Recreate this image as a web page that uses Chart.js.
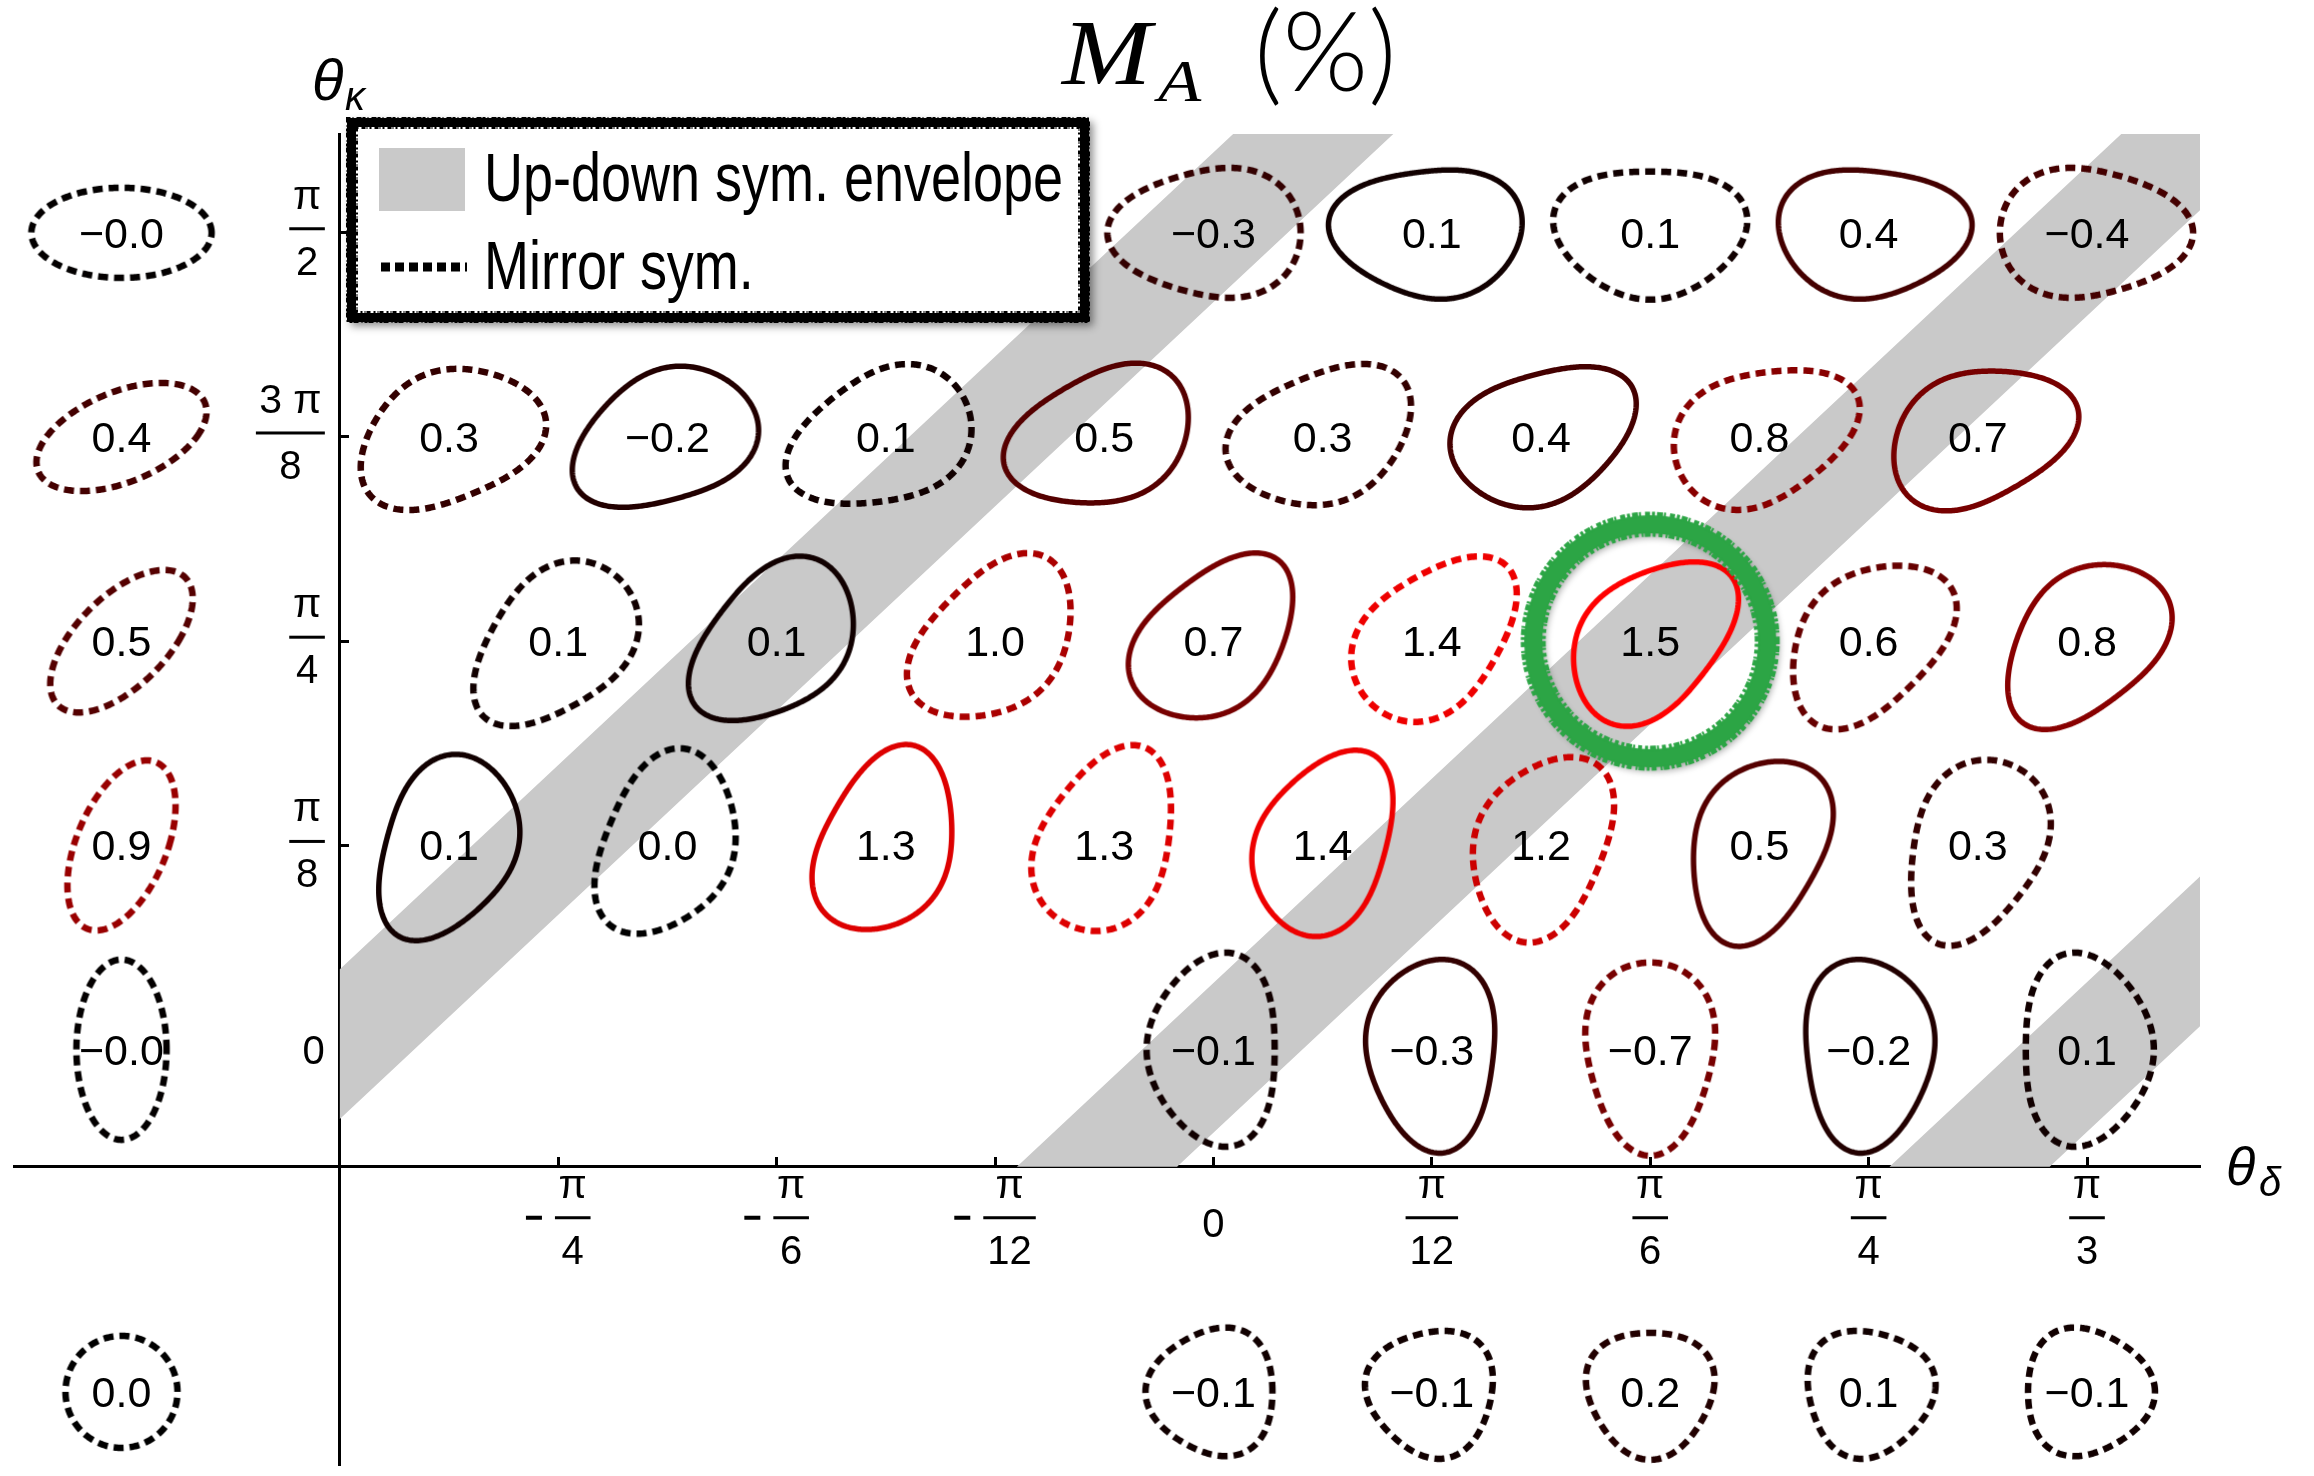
<!DOCTYPE html>
<html>
<head>
<meta charset="utf-8">
<script src="https://cdn.jsdelivr.net/npm/chart.js@4.4.0/dist/chart.umd.min.js"></script>
<style>
  html, body { margin: 0; padding: 0; background: #fff; }
</style>
</head>
<body>
<canvas id="chart" width="2314" height="1476"></canvas>
<script>
// ---- data (angles in degrees) ----
const kappaRows = [90, 67.5, 45, 22.5, 0];              // θκ of each grid row
const deltaWhole = [-45, -30, -15, 0, 15, 30, 45, 60];  // θδ columns on whole rows
const deltaHalf = [-52.5, -37.5, -22.5, -7.5, 7.5, 22.5, 37.5, 52.5];
const deltaEdge = [0, 15, 30, 45, 60];                  // θδ on top/bottom rows

const valuesRow90 = [-0.3, 0.1, 0.1, 0.4, -0.4];
const valuesRow67 = [0.3, -0.2, 0.1, 0.5, 0.3, 0.4, 0.8, 0.7];
const valuesRow45 = [0.1, 0.1, 1.0, 0.7, 1.4, 1.5, 0.6, 0.8];
const valuesRow22 = [0.1, 0.0, 1.3, 1.3, 1.4, 1.2, 0.5, 0.3];
const valuesRow0 = [-0.1, -0.3, -0.7, -0.2, 0.1];

const mirrorRow90 = [1, 0, 1, 0, 1];
const mirrorRow67 = [1, 0, 1, 0, 1, 0, 1, 0];
const mirrorRow45 = [1, 0, 1, 0, 1, 0, 1, 0];
const mirrorRow22 = [0, 1, 0, 1, 0, 1, 0, 1];
const mirrorRow0 = [1, 0, 1, 0, 1];

// elongation only (left column) and triangularity only (bottom row)
const kappaOnlyAt = -75;
const kappaOnlyValues = [-0.02, 0.4, 0.5, 0.9, -0.02];
const deltaOnlyAt = -37.7;
const deltaOnlyValues = [-0.1, -0.1, 0.2, 0.1, -0.1];
const circleValue = [0.0];

// up-down symmetric envelope: θκ = 1.5 θδ + offset ± half width
const bandSlope = 1.5;
const bandOffsets = [-90.8, -0.9, 90.6];
const bandHalfWidth = 8.25;

const axisCrossDelta = -60;   // vertical axis sits at θδ = -π/3
const axisCrossKappa = -12.9; // horizontal axis height
const deltaTicks = [-45, -30, -15, 0, 15, 30, 45, 60];
const kappaTicks = [0, 22.5, 45, 67.5, 90];
const highlight = [30, 45];

const DEG = Math.PI / 180;

function shapeColor(v) {
  const r = Math.round(Math.min(1, Math.abs(v) / 1.5) * 255);
  return 'rgb(' + r + ',0,0)';
}

// draws one cross-section outline into its own small canvas
function glyph(tDelta, tKappa, e2, e3, r0, color, dashed) {
  const size = 250;
  const cv = document.createElement('canvas');
  cv.width = size;
  cv.height = size;
  const g = cv.getContext('2d');
  g.strokeStyle = color;
  g.lineWidth = dashed ? 6.5 : 5.5;
  if (dashed) g.setLineDash([10, 6]);
  g.beginPath();
  const n = 400;
  for (let i = 0; i <= n; i++) {
    const th = i / n * 2 * Math.PI;
    const f = 1 + e2 * Math.cos(2 * (th + tKappa * DEG)) + e3 * Math.cos(3 * (th + tDelta * DEG));
    const r = r0 / Math.sqrt(f);
    const px = size / 2 + r * Math.cos(th);
    const py = size / 2 - r * Math.sin(th);
    if (i === 0) g.moveTo(px, py); else g.lineTo(px, py);
  }
  g.closePath();
  g.stroke();
  return cv;
}

function buildPoints(xs, ys, vals, mirror, e2, e3, r0) {
  return vals.map((v, i) => {
    const x = xs[i], y = ys[i];
    const dashed = !!mirror[i];
    return { x: x, y: y, v: v, glyph: glyph(x, y, e2, e3, r0, shapeColor(v), dashed) };
  });
}

const rowDeltas = [deltaEdge, deltaHalf, deltaWhole, deltaHalf, deltaEdge];
const rowValues = [valuesRow90, valuesRow67, valuesRow45, valuesRow22, valuesRow0];
const rowMirror = [mirrorRow90, mirrorRow67, mirrorRow45, mirrorRow22, mirrorRow0];

let gridPoints = [];
kappaRows.forEach((k, r) => {
  const xs = rowDeltas[r];
  gridPoints = gridPoints.concat(buildPoints(xs, xs.map(() => k), rowValues[r], rowMirror[r], 0.38, 0.12, 75));
});
const kappaOnlyPoints = buildPoints(kappaRows.map(() => kappaOnlyAt), kappaRows, kappaOnlyValues,
  kappaOnlyValues.map(() => 1), 0.6, 0, 57);
const deltaOnlyPoints = buildPoints(deltaEdge, deltaEdge.map(() => deltaOnlyAt), deltaOnlyValues,
  deltaOnlyValues.map(() => 1), 0, 0.14, 63);
const circlePoints = buildPoints([kappaOnlyAt], [deltaOnlyAt], circleValue, [1], 0, 0, 56);

// clip a polygon to the half plane p[key] >= lim
function clipHalf(pts, key, lim) {
  const out = [];
  for (let i = 0; i < pts.length; i++) {
    const a = pts[i], b = pts[(i + 1) % pts.length];
    const ina = a[key] >= lim, inb = b[key] >= lim;
    if (ina) out.push(a);
    if (ina !== inb) {
      const t = (lim - a[key]) / (b[key] - a[key]);
      out.push({ x: a.x + t * (b.x - a.x), y: a.y + t * (b.y - a.y) });
    }
  }
  return out;
}

function bandPolygon(c) {
  let p = [
    { x: -200, y: -200 * bandSlope + c + bandHalfWidth },
    { x: 200, y: 200 * bandSlope + c + bandHalfWidth },
    { x: 200, y: 200 * bandSlope + c - bandHalfWidth },
    { x: -200, y: -200 * bandSlope + c - bandHalfWidth }
  ];
  p = clipHalf(p, 'x', axisCrossDelta);
  p = clipHalf(p, 'y', axisCrossKappa);
  p.push(p[0]);
  return p;
}

function ring() {
  const size = 300;
  const cv = document.createElement('canvas');
  cv.width = size;
  cv.height = size;
  const g = cv.getContext('2d');
  g.save();
  g.shadowColor = 'rgba(0,0,0,0.35)';
  g.shadowBlur = 7;
  g.shadowOffsetX = 3;
  g.shadowOffsetY = 4;
  g.strokeStyle = '#2ca545';
  g.lineWidth = 18;
  g.beginPath();
  g.arc(size / 2, size / 2, 117, 0, 2 * Math.PI);
  g.stroke();
  g.restore();
  // ragged chalk edges
  g.strokeStyle = '#2ca545';
  g.lineWidth = 5;
  g.setLineDash([3, 2, 6, 1, 2, 4, 5, 2]);
  g.beginPath();
  g.arc(size / 2, size / 2, 127, 0, 2 * Math.PI);
  g.stroke();
  g.setLineDash([4, 3, 2, 1, 6, 2, 3, 3]);
  g.beginPath();
  g.arc(size / 2, size / 2, 107, 0.3, 0.3 + 2 * Math.PI);
  g.stroke();
  return cv;
}

const datasets = [];
datasets.push({
  label: 'highlight', data: [{ x: highlight[0], y: highlight[1] }], showLine: false,
  pointStyle: ring(), pointRadius: 10, order: 0, clip: false
});
[gridPoints, kappaOnlyPoints, deltaOnlyPoints, circlePoints].forEach(p => {
  datasets.push({
    label: 'shapes', data: p, showLine: false, isShapes: true, order: 1, clip: false,
    pointRadius: 10,
    pointStyle: c => (c.raw && c.raw.glyph) ? c.raw.glyph : 'circle'
  });
});
bandOffsets.forEach(c => {
  datasets.push({
    label: 'Up-down sym. envelope', data: bandPolygon(c), fill: 'shape',
    backgroundColor: '#c9c9c9', borderWidth: 0, pointRadius: 0, tension: 0, order: 5
  });
});

function fmt(v) {
  return (v < 0 ? '\u2212' : '') + Math.abs(v).toFixed(1);
}

function piFrac(v) {
  const f = v / 180;
  for (let q = 1; q <= 24; q++) {
    const p = f * q;
    if (Math.abs(p - Math.round(p)) < 1e-6) return [Math.round(p), q];
  }
  return [0, 1];
}

const FONT = '"Liberation Sans", Arial, sans-serif';

// numerator/denominator stacked over a bar; returns bar width
function fracWidth(ctx, p, q) {
  ctx.font = '40px ' + FONT;
  const num = Math.abs(p) === 1 ? '\u03c0' : Math.abs(p) + ' \u03c0';
  return Math.max(ctx.measureText(num).width, ctx.measureText(String(q)).width) + 8;
}
function drawFrac(ctx, cx, barY, p, q) {
  const bw = fracWidth(ctx, p, q);
  const num = Math.abs(p) === 1 ? '\u03c0' : Math.abs(p) + ' \u03c0';
  ctx.textAlign = 'center';
  ctx.font = '41px ' + FONT;
  ctx.fillText(num, cx, barY - 20);
  ctx.font = '40px ' + FONT;
  ctx.fillText(String(q), cx, barY + 46);
  ctx.fillRect(cx - bw / 2, barY - 1.5, bw, 3);
}

const labelPlugin = {
  id: 'shapeLabels',
  afterDatasetsDraw(chart) {
    const ctx = chart.ctx;
    ctx.save();
    ctx.font = '43px ' + FONT;
    ctx.fillStyle = '#000';
    ctx.textAlign = 'center';
    chart.data.datasets.forEach((ds, i) => {
      if (!ds.isShapes) return;
      chart.getDatasetMeta(i).data.forEach((pt, j) => {
        ctx.fillText(fmt(ds.data[j].v), pt.x, pt.y + 15);
      });
    });
    ctx.restore();
  }
};

const decorPlugin = {
  id: 'decor',
  afterDraw(chart) {
    const ctx = chart.ctx;
    const xs = chart.scales.x, ys = chart.scales.y;
    const axisY = ys.getPixelForValue(axisCrossKappa);
    const axisX = xs.getPixelForValue(axisCrossDelta);
    ctx.save();
    ctx.fillStyle = '#000';

    // θδ tick labels
    xs.ticks.forEach(t => {
      const px = xs.getPixelForValue(t.value);
      const barY = axisY + 51;
      if (t.value === 0) {
        ctx.font = '40px ' + FONT;
        ctx.textAlign = 'center';
        ctx.fillText('0', px, barY + 19);
        return;
      }
      const [p, q] = piFrac(t.value);
      const bw = fracWidth(ctx, p, q);
      if (p < 0) {
        const w = 16 + 13 + bw;
        const left = px - w / 2;
        ctx.fillRect(left, barY - 2, 16, 4);
        drawFrac(ctx, left + 29 + bw / 2, barY, p, q);
      } else {
        drawFrac(ctx, px, barY, p, q);
      }
    });

    // θκ tick labels, right aligned against the axis
    ys.ticks.forEach(t => {
      const py = ys.getPixelForValue(t.value);
      const right = axisX - 15;
      if (t.value === 0) {
        ctx.font = '40px ' + FONT;
        ctx.textAlign = 'right';
        ctx.fillText('0', right, py + 14);
        return;
      }
      const [p, q] = piFrac(t.value);
      const bw = fracWidth(ctx, p, q);
      drawFrac(ctx, right - bw / 2, py - 4, p, q);
    });

    // axis names
    ctx.textAlign = 'left';
    ctx.font = 'italic 58px ' + FONT;
    ctx.fillText('\u03b8', 312, 100);
    ctx.font = 'italic 40px ' + FONT;
    ctx.fillText('\u03ba', 345, 110);
    ctx.font = 'italic 54px ' + FONT;
    ctx.fillText('\u03b8', 2226, 1185);
    ctx.font = 'italic 40px ' + FONT;
    ctx.fillText('\u03b4', 2259, 1196);

    // title M_A (%)
    ctx.save();
    ctx.translate(1062, 84);
    ctx.scale(1.14, 1);
    ctx.font = 'italic 94px "Liberation Serif", "DejaVu Serif", serif';
    ctx.fillText('M', 0, 0);
    ctx.restore();
    ctx.save();
    ctx.translate(1158, 101);
    ctx.scale(1.18, 1);
    ctx.font = 'italic 60px "Liberation Serif", "DejaVu Serif", serif';
    ctx.fillText('A', 0, 0);
    ctx.restore();
    ctx.font = '300 110px Lato, ' + FONT;
    ctx.fillText('(%)', 1254, 91);

    // legend box
    const bx = 347, by = 118, bw = 742, bh = 204;
    ctx.save();
    ctx.fillStyle = '#fff';
    ctx.shadowColor = 'rgba(0,0,0,0.45)';
    ctx.shadowBlur = 8;
    ctx.shadowOffsetX = 4;
    ctx.shadowOffsetY = 4;
    ctx.fillRect(bx, by, bw, bh);
    ctx.restore();
    ctx.strokeStyle = '#000';
    ctx.lineWidth = 9;
    ctx.strokeRect(bx + 4.5, by + 4.5, bw - 9, bh - 9);
    ctx.lineWidth = 3;
    ctx.setLineDash([3, 2, 1, 3, 5, 1]);
    ctx.strokeRect(bx + 0.5, by + 0.5, bw - 1, bh - 1);
    ctx.setLineDash([2, 3, 4, 1, 1, 2]);
    ctx.strokeRect(bx + 9.5, by + 9.5, bw - 19, bh - 19);
    ctx.setLineDash([]);

    ctx.fillStyle = '#c9c9c9';
    ctx.fillRect(379, 148, 86, 63);
    ctx.strokeStyle = '#000';
    ctx.lineWidth = 9;
    ctx.setLineDash([9, 5]);
    ctx.beginPath();
    ctx.moveTo(381, 267);
    ctx.lineTo(467, 267);
    ctx.stroke();
    ctx.setLineDash([]);

    ctx.fillStyle = '#000';
    ctx.font = '68px ' + FONT;
    const t1 = 'Up-down sym. envelope';
    const sx = 579 / ctx.measureText(t1).width;
    ctx.save();
    ctx.translate(484, 201);
    ctx.scale(sx, 1);
    ctx.fillText(t1, 0, 0);
    ctx.restore();
    ctx.save();
    ctx.translate(484, 289);
    ctx.scale(sx, 1);
    ctx.fillText('Mirror sym.', 0, 0);
    ctx.restore();

    ctx.restore();
  }
};

new Chart(document.getElementById('chart'), {
  type: 'line',
  data: { datasets: datasets },
  options: {
    responsive: false,
    animation: false,
    devicePixelRatio: 1,
    events: [],
    layout: { padding: { left: 14, right: 114, top: 134, bottom: 0 } },
    plugins: { legend: { display: false }, tooltip: { enabled: false }, title: { display: false } },
    scales: {
      x: {
        type: 'linear', min: -82.38, max: 67.76,
        position: { y: axisCrossKappa }, z: 1,
        afterBuildTicks: s => { s.ticks = deltaTicks.map(v => ({ value: v })); },
        ticks: { display: false },
        grid: { display: true, drawOnChartArea: false, drawTicks: true, tickLength: -11, tickWidth: 3, tickColor: '#000' },
        border: { display: true, color: '#000', width: 3 }
      },
      y: {
        type: 'linear', min: -45.76, max: 100.88,
        position: { x: axisCrossDelta }, z: 1,
        afterBuildTicks: s => { s.ticks = kappaTicks.map(v => ({ value: v })); },
        ticks: { display: false },
        grid: { display: true, drawOnChartArea: false, drawTicks: true, tickLength: -11, tickWidth: 3, tickColor: '#000' },
        border: { display: true, color: '#000', width: 3 }
      }
    }
  },
  plugins: [labelPlugin, decorPlugin]
});
</script>
</body>
</html>
